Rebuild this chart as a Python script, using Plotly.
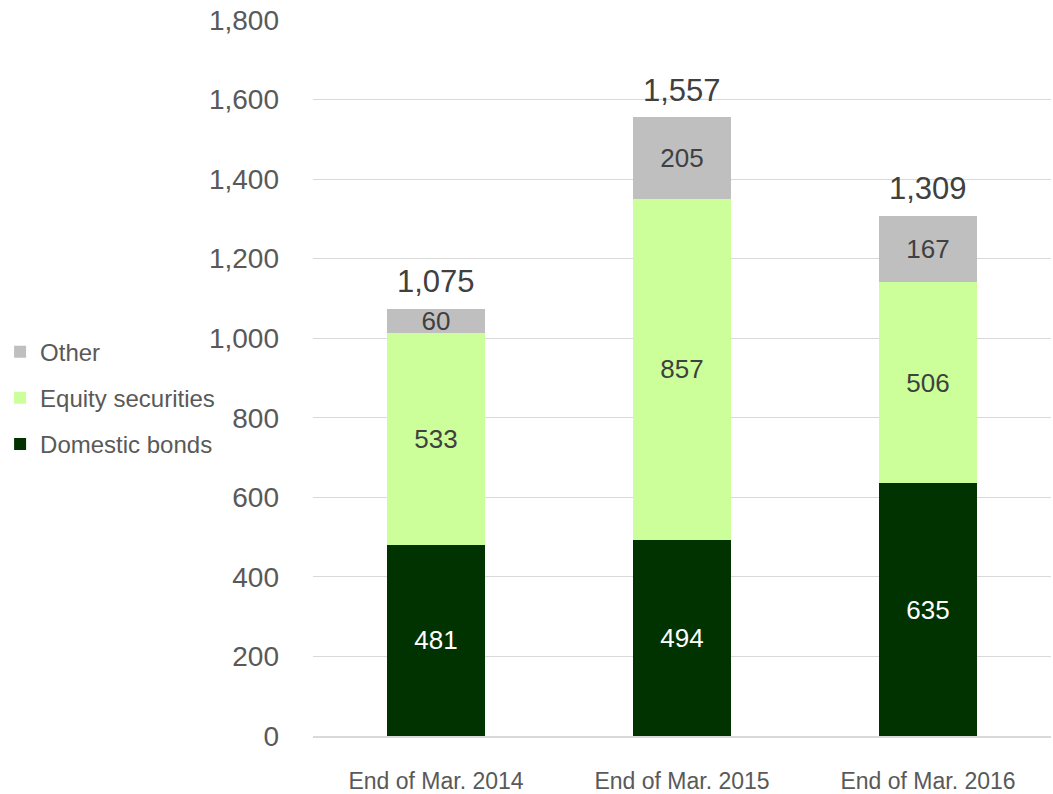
import plotly.graph_objects as go

categories = ["End of Mar. 2014", "End of Mar. 2015", "End of Mar. 2016"]
domestic_bonds = [481, 494, 635]
equity_securities = [533, 857, 506]
other = [60, 205, 167]
totals = [1075, 1557, 1309]
y_ticks = [0, 200, 400, 600, 800, 1000, 1200, 1400, 1600, 1800]

FONT = "Liberation Sans, Arial, sans-serif"
GRAY_TXT = "#595959"

fig = go.Figure()
series = [
    ("Domestic bonds", domestic_bonds, "#003300", "white", 3),
    ("Equity securities", equity_securities, "#CCFF99", "#404040", 2),
    ("Other", other, "#BFBFBF", "#404040", 1),
]
for name, vals, color, tcolor, rank in series:
    fig.add_trace(go.Bar(
        name=name, x=categories, y=vals, marker=dict(color=color, line=dict(width=0)),
        text=[str(v) for v in vals], textposition="inside", insidetextanchor="middle",
        textangle=0, constraintext="none",
        textfont=dict(family=FONT, size=26, color=tcolor),
        legendgroup=name, legendrank=rank, hoverinfo="skip",
    ))

for c, t in zip(categories, totals):
    fig.add_annotation(x=c, y=t, text=f"{t:,}", showarrow=False, yanchor="bottom",
                       yshift=7, font=dict(family=FONT, size=31, color="#404040"))

fig.update_layout(
    width=1053, height=794, barmode="stack", bargap=0.6,
    paper_bgcolor="white", plot_bgcolor="white",
    margin=dict(l=313, r=2, t=20, b=58, autoexpand=False),
    font=dict(family=FONT, color=GRAY_TXT),
    legend=dict(x=-0.424, xanchor="left", y=0.472, yanchor="middle",
                traceorder="grouped", tracegroupgap=12,
                bgcolor="rgba(0,0,0,0)",
                font=dict(family=FONT, size=24, color=GRAY_TXT), itemwidth=30),
    showlegend=True,
)
fig.update_yaxes(range=[0, 1800], tickvals=y_ticks, tickformat=",",
                 showgrid=True, gridcolor="#D9D9D9", gridwidth=1,
                 zeroline=False, showline=False, automargin=False,
                 ticklabeloverflow="allow",
                 tickfont=dict(family=FONT, size=28, color=GRAY_TXT),
                 ticklabelstandoff=33)
fig.update_xaxes(showline=True, linecolor="#D9D9D9", linewidth=2, automargin=False,
                 ticklabeloverflow="allow",
                 tickfont=dict(family=FONT, size=23, color=GRAY_TXT),
                 ticks="outside", ticklen=23, tickcolor="rgba(0,0,0,0)")

# remove the default 8px page margin so the figure fills the window exactly
fig.write_html("out.html", config={"displayModeBar": False},
               post_script="document.body.style.margin='0';")
